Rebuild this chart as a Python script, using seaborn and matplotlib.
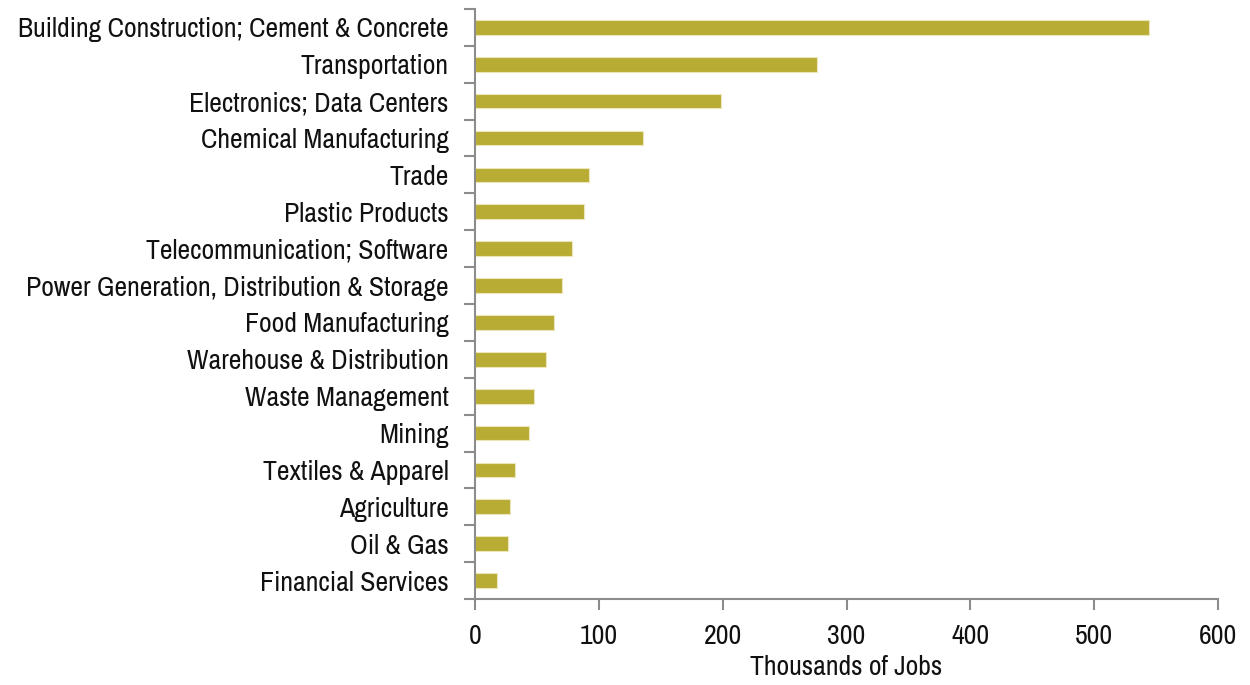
import numpy as np
import pandas as pd
import matplotlib
matplotlib.use("Agg")
import matplotlib.pyplot as plt
import seaborn as sns

# Jobs by sector, thousands
sectors = ['Building Construction; Cement & Concrete', 'Transportation', 'Electronics; Data Centers',
           'Chemical Manufacturing', 'Trade', 'Plastic Products', 'Telecommunication; Software',
           'Power Generation, Distribution & Storage', 'Food Manufacturing', 'Warehouse & Distribution',
           'Waste Management', 'Mining', 'Textiles & Apparel', 'Agriculture', 'Oil & Gas',
           'Financial Services']
jobs = [544, 276, 199, 136, 92, 88, 78.5, 70.5, 64, 57, 48, 43.5, 32, 28, 26.5, 18]
x_ticks = [0, 100, 200, 300, 400, 500, 600]

df = pd.DataFrame({'Sector': sectors, 'Jobs': jobs})

sns.set_style('ticks')
plt.rcParams['font.family'] = ['Archivo Narrow', 'DejaVu Sans']

fig = plt.figure(figsize=(12.5, 6.85), dpi=100)
ax = fig.add_axes([0.38, 0.1255, 0.5944, 0.8615])
sns.barplot(data=df, x='Jobs', y='Sector', orient='h', color='#B8AC35', saturation=1,
            width=0.4, edgecolor='#EDE7B8', linewidth=0.8, ax=ax)

grey = '#8C8C8C'
fs = 20
ax.set_xlim(0, 600)
ax.set_ylim(len(sectors) - 0.5, -0.5)
ax.set_xticks(x_ticks)
ax.set_xticklabels([str(t) for t in x_ticks], fontsize=fs, color='#111111')
ax.set_xlabel('Thousands of Jobs', fontsize=fs, labelpad=4, color='#111111')
ax.set_ylabel('')
ax.tick_params(axis='y', which='major', length=0, labelsize=fs, pad=19, labelcolor='#111111')
ax.set_yticks(np.arange(len(sectors) + 1) - 0.5, minor=True)
ax.tick_params(axis='y', which='minor', length=8, width=1.5, color=grey, left=True)
ax.tick_params(axis='x', length=8, width=1.5, color=grey, pad=10, bottom=True)
for s in ['top', 'right']:
    ax.spines[s].set_visible(False)
for s in ['left', 'bottom']:
    ax.spines[s].set_color(grey)
    ax.spines[s].set_linewidth(1.5)

fig.savefig('out.png', dpi=100)
